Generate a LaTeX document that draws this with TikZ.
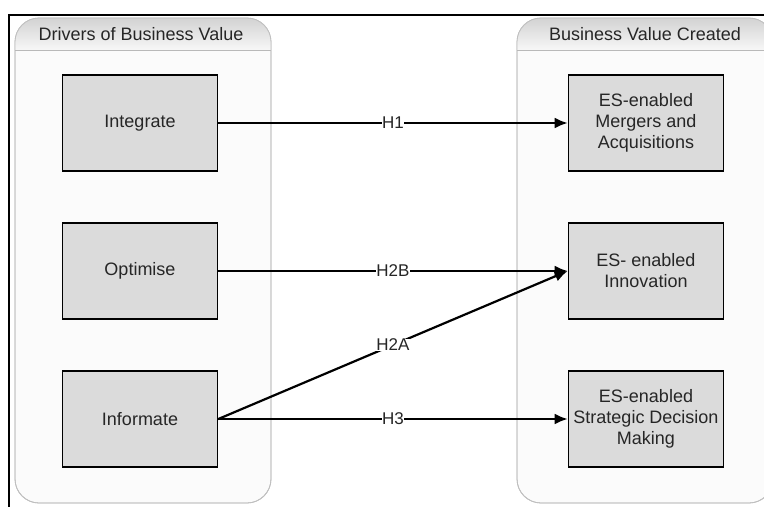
\documentclass[tikz,border=0pt]{standalone}
\usepackage{fontspec}
\setmainfont{Liberation Sans}
\usetikzlibrary{arrows.meta, positioning}

\begin{document}
\begin{tikzpicture}[x=1pt, y=-1pt,
    lane/.style={draw=gray!50, fill=gray!3, line width=0.8pt, rounded corners=24pt},
    lanetitle/.style={font=\fontsize{18}{20}\selectfont, text=black!85},
    drvbox/.style={draw, line width=1.6pt, fill=gray!28, minimum width=155pt, minimum height=96pt,
                   align=center, text=black!85, font=\fontsize{18}{21}\selectfont},
    hyp/.style={-{Latex[length=13pt, width=11pt]}, line width=2.2pt},
    hyplabel/.style={fill=white, inner sep=0.5pt, font=\fontsize{17}{17}\selectfont, text=black!85}]
    \useasboundingbox (0,0) rectangle (764,507);
    % frame
    \draw [line width=1.6pt] (764,15) -- (9,15) -- (9,507);
    % lanes
    \path [lane] (15,18) rectangle (271,503);
    \begin{scope}
        \clip [rounded corners=24pt] (15,18) rectangle (271,503);
        \shade [top color=gray!35, bottom color=gray!6] (15,18) rectangle (271,50);
    \end{scope}
    \draw [lane, fill=none] (15,18) rectangle (271,503);
    \draw [gray!55, line width=1pt] (15,50) -- (271,50);
    \path [lane] (517,18) rectangle (773,503);
    \begin{scope}
        \clip [rounded corners=24pt] (517,18) rectangle (773,503);
        \shade [top color=gray!35, bottom color=gray!6] (517,18) rectangle (773,50);
    \end{scope}
    \draw [lane, fill=none] (517,18) rectangle (773,503);
    \draw [gray!55, line width=1pt] (517,50) -- (773,50);
    \node [lanetitle] (drivers) at (141,34) {Drivers of Business Value};
    \node [lanetitle] (created) at (645,34) {Business Value Created};
    % boxes
    \node [drvbox] (integrate) at (140,123) {Integrate};
    \node [drvbox] (optimise) at (140,271) {Optimise};
    \node [drvbox] (informate) at (140,419) {Informate};
    \node [drvbox] (mergers) at (646,123) {ES-enabled\\Mergers and\\Acquisitions};
    \node [drvbox] (innovation) at (646,271) {ES- enabled\\Innovation};
    \node [drvbox] (decision) at (646,419) {ES-enabled\\Strategic Decision\\Making};
    % hypotheses
    \draw [hyp] (integrate) -- (mergers) node [hyplabel, midway] {H1};
    \draw [hyp] (optimise) -- (innovation) node [hyplabel, midway] {H2B};
    \draw [hyp] (informate.east) -- (innovation.west) node [hyplabel, midway] {H2A};
    \draw [hyp] (informate) -- (decision) node [hyplabel, midway] {H3};
\end{tikzpicture}
\end{document}
